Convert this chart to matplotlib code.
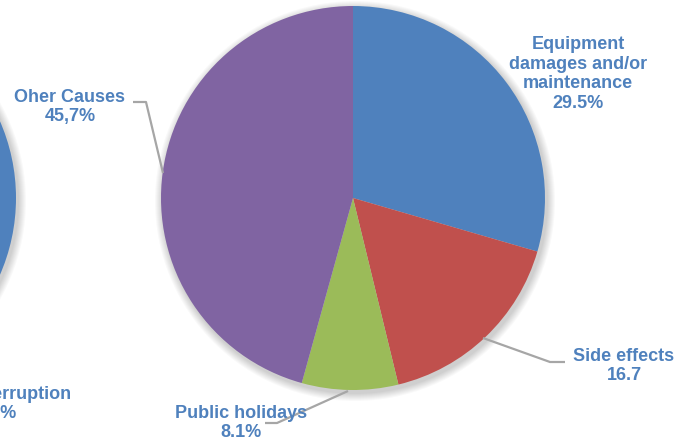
import matplotlib.pyplot as plt
from matplotlib.patches import Circle

# causes of downtime (%)
labels = ["Equipment\ndamages and/or\nmaintenance", "Side effects", "Public holidays", "Oher Causes"]
values = [29.5, 16.7, 8.1, 45.7]
value_text = ["29.5%", "16.7", "8.1%", "45,7%"]
colors = ["#4F81BD", "#C0504D", "#9BBB59", "#8064A2"]

# neighbouring pie, only its edge shows
left_labels = ["Power interruption", "Other"]
left_values = [53.7, 46.3]
left_text = ["53.7%", ""]

W, H = 677, 444
fig = plt.figure(figsize=(W / 100, H / 100), dpi=100)
ax = fig.add_axes([0, 0, 1, 1])

R = 192
cx, cy = 353, H - 198
lcx = -176

def shadow(x, y):
    for k in range(8):
        ax.add_patch(Circle((x + 2, y - 3), R + 1 + k, color="#000000",
                            alpha=0.025, lw=0, zorder=0))

shadow(cx, cy)
shadow(lcx, cy)

# first wedge centred on the right-hand side
ax.pie(left_values, colors=["#4F81BD", "#C0504D"],
       startangle=left_values[0] * 3.6 / 2, counterclock=False,
       center=(lcx, cy), radius=R, wedgeprops=dict(linewidth=0))
ax.pie(values, colors=colors, startangle=90, counterclock=False,
       center=(cx, cy), radius=R, wedgeprops=dict(linewidth=0))

txt = dict(color="#4F81BD", fontsize=13, fontweight="bold", ha="center",
           va="center", family="Liberation Sans", linespacing=1.2)
gray = dict(color="#A6A6A6", lw=1.6, solid_capstyle="butt")

ax.text(578, H - 74, labels[0] + "\n" + value_text[0], **txt)

ax.plot([483, 550, 565], [H - 338, H - 362, H - 362], **gray)
ax.text(624, H - 366, labels[1] + "\n" + value_text[1], **txt)

ax.plot([348, 277, 265], [H - 391, H - 423, H - 423], **gray)
ax.text(241, H - 423, labels[2] + "\n" + value_text[2], **txt)

ax.plot([133, 146, 163], [H - 102, H - 102, H - 173], **gray)
ax.text(70, H - 107, labels[3] + "\n" + value_text[3], **txt)

ax.text(-9, H - 404, left_labels[0] + "\n" + left_text[0], **txt)

ax.set_xlim(0, W)
ax.set_ylim(0, H)
ax.set_aspect("equal")
ax.axis("off")

fig.savefig("out.png", dpi=100)
